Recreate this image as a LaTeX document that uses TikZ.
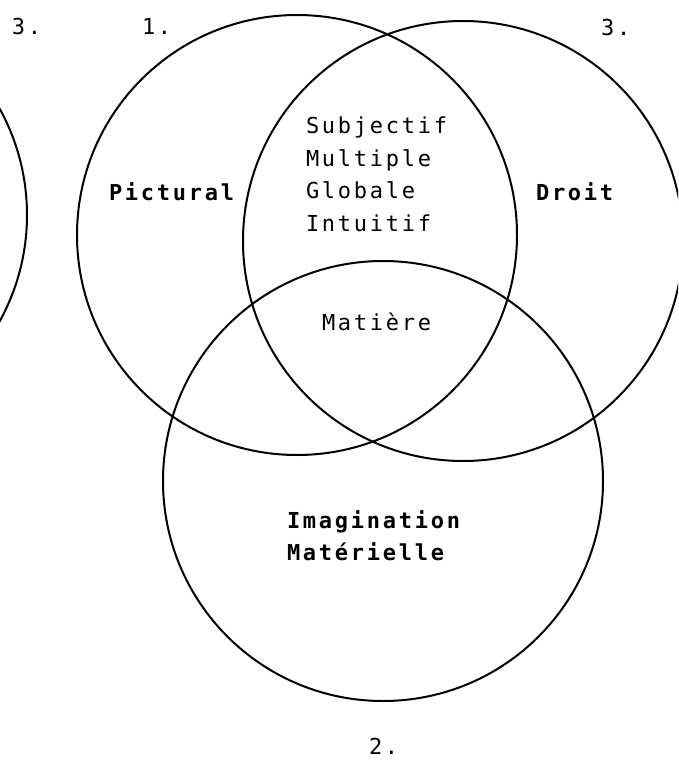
\documentclass[tikz,border=0pt]{standalone}
\usepackage{fontspec}
\newfontfamily\dotfont[LetterSpace=12.5]{DejaVu Sans Mono}
\usetikzlibrary{positioning}
\begin{document}
\begin{tikzpicture}[x=1pt,y=-1pt,line width=2pt]

	\tikzstyle{set}  = [circle, draw=black, minimum size=440pt, inner sep=0pt]
	\tikzstyle{word} = [font=\dotfont\fontsize{22}{26}\selectfont, inner sep=0pt, anchor=base west]
	\tikzstyle{key}  = [word, font=\dotfont\fontsize{22}{26}\selectfont\bfseries]

	\useasboundingbox (0,0) rectangle (678,760);
	\clip (0,0) rectangle (678,760);

	% the three sets, and the one cut by the left edge
	\node [set] (c0) at (-193,215) {};
	\node [set] (c1) at (297,235) {};
	\node [set] (c3) at (463,241) {};
	\node [set] (c2) at (383,481) {};

	% numbers
	\node [word] (n3a) at (11,35) {3.};
	\node [word] (n1)  at (141,35) {1.};
	\node [word] (n3b) at (600,36) {3.};
	\node [word] (n2)  at (368,754) {2.};

	% names of the sets
	\node [key] (pict) at (108,200) {Pictural};
	\node [key] (droit) at (535,200) {Droit};
	\node [key] (imag) at (286,528) {Imagination};
	\node [key] (mat) at ([yshift=-32pt]imag.base west) {Matérielle};

	% common part
	\node [word] (w1) at (305,133) {Subjectif};
	\node [word] (w2) at ([yshift=-33pt]w1.base west) {Multiple};
	\node [word] (w3) at ([yshift=-32pt]w2.base west) {Globale};
	\node [word] (w4) at ([yshift=-33pt]w3.base west) {Intuitif};
	\node [word] (matiere) at (321,330) {Matière};

\end{tikzpicture}
\end{document}
